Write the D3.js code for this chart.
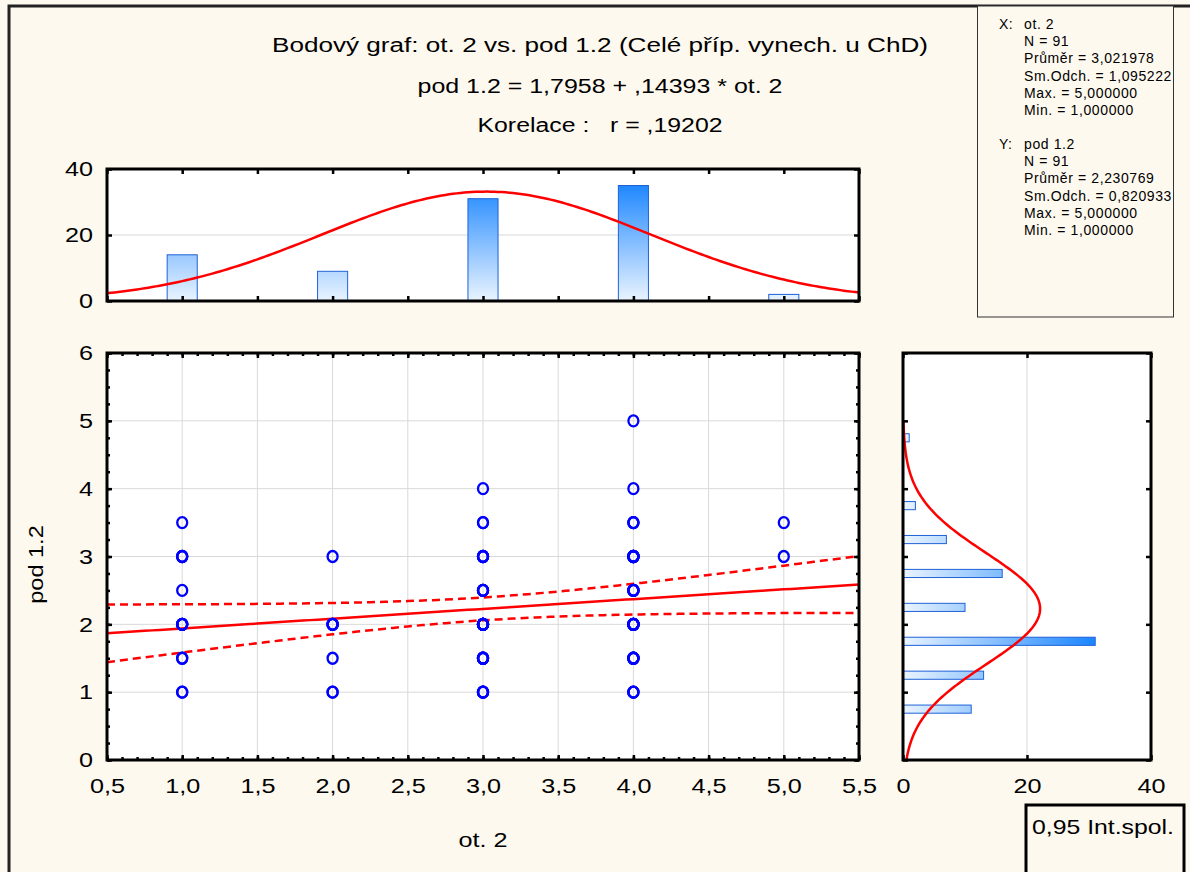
<!DOCTYPE html>
<html>
<head>
<meta charset="utf-8">
<script src="https://cdn.jsdelivr.net/npm/d3@7"></script>
<style>
  html, body { margin: 0; padding: 0; background: #fef9ef; }
  svg { display: block; font-family: "Liberation Sans", Arial, sans-serif; }
</style>
</head>
<body>
<svg id="chart" width="1190" height="872"></svg>
<script>
// ---- data ---------------------------------------------------------------
// distinct (ot. 2, pod 1.2) positions and the number of cases at each
const cellX = [1,1,1,1,1,1, 2,2,2,2, 3,3,3,3,3,3,3, 4,4,4,4,4,4,4,4, 5,5];
const cellY = [1,1.5,2,2.5,3,3.5, 1,1.5,2,3, 1,1.5,2,2.5,3,3.5,4, 1,1.5,2,2.5,3,3.5,4,5, 3,3.5];
const cellN = [2,2,5,1,3,1, 2,1,5,1, 4,5,11,4,4,2,1, 3,5,10,5,7,3,1,1, 1,1];

// marginal histogram of ot. 2 (top)
const xBins = [1, 2, 3, 4, 5];
const xCounts = [14, 9, 31, 35, 2];

// marginal histogram of pod 1.2 (right), bins of width 0.5
const yBinMids = [0.75, 1.25, 1.75, 2.25, 2.75, 3.25, 3.75, 4.25, 4.75];
const yCounts = [11, 13, 31, 10, 16, 7, 2, 0, 1];

// descriptive statistics and regression
const nCases = 91;
const meanX = 3.021978, sdX = 1.095222;
const meanY = 2.230769, sdY = 0.820933;
const intercept = 1.7958, slope = 0.14393, corr = 0.19202;
const tCrit = 1.987; // t(0.975; 89)

// text
const titleLines = [
  "Bodový graf: ot. 2 vs. pod 1.2 (Celé příp. vynech. u ChD)",
  "pod 1.2 = 1,7958 + ,14393 * ot. 2",
  "Korelace :   r = ,19202"
];
const statsX = ["ot. 2", "N = 91", "Průměr = 3,021978", "Sm.Odch. = 1,095222", "Max. = 5,000000", "Min. = 1,000000"];
const statsY = ["pod 1.2", "N = 91", "Průměr = 2,230769", "Sm.Odch. = 0,820933", "Max. = 5,000000", "Min. = 1,000000"];
const xTicks = [0.5, 1, 1.5, 2, 2.5, 3, 3.5, 4, 4.5, 5, 5.5];
const yTicks = [0, 1, 2, 3, 4, 5, 6];
const countTicks = [0, 20, 40];
const legendText = "0,95 Int.spol.";

// ---- setup --------------------------------------------------------------
const svg = d3.select("#chart");
const czFmt = d3.formatLocale({ decimal: ",", thousands: "\u00a0", grouping: [3], currency: ["", " Kč"] }).format(".1f");

const xS = d3.scaleLinear([0.5, 5.5], [107, 859]);
const yS = d3.scaleLinear([0, 6], [760, 353]);
const yTop = d3.scaleLinear([0, 40], [301, 169]);
const xRight = d3.scaleLinear([0, 40], [903, 1151]);

const RED = "#ff0000", BLUE = "#0000ff", GRID = "#d9d9d9";
const STRETCH = 1.2; // labels are set slightly wide

// outer frame (left and top edges visible)
svg.append("rect").attr("x", 9).attr("y", 6).attr("width", 1200).attr("height", 900)
  .attr("fill", "#fef9ef").attr("stroke", "#222").attr("stroke-width", 3);

// gradients for histogram bars (in data space so taller bars get deeper blue)
const defs = svg.append("defs");
const gTop = defs.append("linearGradient").attr("id", "gradTop").attr("gradientUnits", "userSpaceOnUse")
  .attr("x1", 0).attr("x2", 0).attr("y1", yTop(0)).attr("y2", yTop(36));
gTop.append("stop").attr("offset", 0).attr("stop-color", "#eaf4ff");
gTop.append("stop").attr("offset", 1).attr("stop-color", "#1a85ff");
const gRight = defs.append("linearGradient").attr("id", "gradRight").attr("gradientUnits", "userSpaceOnUse")
  .attr("y1", 0).attr("y2", 0).attr("x1", xRight(0)).attr("x2", xRight(31));
gRight.append("stop").attr("offset", 0).attr("stop-color", "#eaf4ff");
gRight.append("stop").attr("offset", 1).attr("stop-color", "#1a85ff");

function clip(id, x0, y0, x1, y1) {
  defs.append("clipPath").attr("id", id).append("rect")
    .attr("x", x0).attr("y", y0).attr("width", x1 - x0).attr("height", y1 - y0);
}
clip("clipMain", xS(0.5), yS(6), xS(5.5), yS(0));
clip("clipTop", xS(0.5), yTop(40), xS(5.5), yTop(0));
clip("clipRight", xRight(0), yS(6), xRight(40), yS(0));

function panel(x0, y0, x1, y1) {
  svg.append("rect").attr("x", x0).attr("y", y0).attr("width", x1 - x0).attr("height", y1 - y0).attr("fill", "#fff");
}
function frame(x0, y0, x1, y1) {
  svg.append("rect").attr("x", x0).attr("y", y0).attr("width", x1 - x0).attr("height", y1 - y0)
    .attr("fill", "none").attr("stroke", "#000").attr("stroke-width", 3);
}
// inward tick marks on a frame edge
function ticks(axisFn, scale, values, len, tx, ty) {
  svg.append("g").attr("transform", `translate(${tx},${ty})`)
    .call(axisFn(scale).tickValues(values).tickSize(len).tickFormat(""))
    .call(g => g.select(".domain").remove())
    .selectAll("line").attr("stroke", "#000").attr("stroke-width", 2.5);
}
// tick labels; the text is widened about each tick position
function labels(axisFn, scale, values, fmt, pad, tx, ty, size) {
  svg.append("g").attr("transform", `translate(${tx},${ty})`)
    .call(axisFn(scale).tickValues(values).tickSize(0).tickPadding(pad).tickFormat(fmt))
    .call(g => g.select(".domain").remove())
    .selectAll("text").attr("font-size", size).attr("font-family", "Liberation Sans, Arial, sans-serif")
    .attr("fill", "#000").attr("transform", `scale(${STRETCH},1)`);
}

// ---- titles -------------------------------------------------------------
const titleY = [52, 93, 132];
const titleW = [656, 365, 245];
titleLines.forEach((t, i) => {
  svg.append("text").attr("x", 600).attr("y", titleY[i]).attr("text-anchor", "middle")
    .attr("font-size", 20).style("white-space", "pre")
    .attr("textLength", titleW[i]).attr("lengthAdjust", "spacingAndGlyphs").text(t);
});

// ---- statistics box -----------------------------------------------------
svg.append("rect").attr("x", 977.5).attr("y", 6).attr("width", 196).attr("height", 311)
  .attr("fill", "#fef9ef").attr("stroke", "#333").attr("stroke-width", 1);
function statBlock(head, lines, y0) {
  svg.append("text").attr("x", 999).attr("y", y0).attr("font-size", 14).attr("letter-spacing", 0.5).text(head);
  lines.forEach((t, i) => {
    svg.append("text").attr("x", 1024).attr("y", y0 + i * 17.2).attr("font-size", 14)
      .attr("letter-spacing", 0.6).text(t);
  });
}
statBlock("X:", statsX, 29);
statBlock("Y:", statsY, 149);

// ---- top histogram (ot. 2) -----------------------------------------------
panel(xS(0.5), yTop(40), xS(5.5), yTop(0));
svg.append("line").attr("x1", xS(0.5)).attr("x2", xS(5.5)).attr("y1", yTop(20)).attr("y2", yTop(20))
  .attr("stroke", GRID).attr("stroke-width", 1);
const topG = svg.append("g").attr("clip-path", "url(#clipTop)");
topG.selectAll("rect.bar").data(xBins).join("rect").attr("class", "bar")
  .attr("x", d => xS(d - 0.1)).attr("width", xS(1.2) - xS(1))
  .attr("y", (d, i) => yTop(xCounts[i])).attr("height", (d, i) => yTop(0) - yTop(xCounts[i]))
  .attr("fill", "url(#gradTop)").attr("stroke", "#1f62d6").attr("stroke-width", 1);
const normTop = d3.range(0, 201).map(i => 0.5 + i * 5 / 200)
  .map(x => [x, nCases * 1 / (sdX * Math.sqrt(2 * Math.PI)) * Math.exp(-0.5 * ((x - meanX) / sdX) ** 2)]);
topG.append("path").datum(normTop)
  .attr("d", d3.line().x(d => xS(d[0])).y(d => yTop(d[1])))
  .attr("fill", "none").attr("stroke", RED).attr("stroke-width", 2.5);
frame(xS(0.5), yTop(40), xS(5.5), yTop(0));
ticks(d3.axisBottom, xS, xTicks, 5, 0, yTop(40));
ticks(d3.axisTop, xS, xTicks, 5, 0, yTop(0));
ticks(d3.axisRight, yTop, countTicks, 5, xS(0.5), 0);
ticks(d3.axisLeft, yTop, countTicks, 5, xS(5.5), 0);
labels(d3.axisLeft, yTop, countTicks, d3.format("d"), 14 / STRETCH, xS(0.5), 0, 21);

// ---- scatter plot -------------------------------------------------------
panel(xS(0.5), yS(6), xS(5.5), yS(0));
svg.append("g").selectAll("line").data(xTicks.slice(1, -1)).join("line")
  .attr("x1", d => xS(d)).attr("x2", d => xS(d)).attr("y1", yS(0)).attr("y2", yS(6))
  .attr("stroke", GRID).attr("stroke-width", 1);
svg.append("g").selectAll("line").data(yTicks.slice(1, -1)).join("line")
  .attr("y1", d => yS(d)).attr("y2", d => yS(d)).attr("x1", xS(0.5)).attr("x2", xS(5.5))
  .attr("stroke", GRID).attr("stroke-width", 1);

const mainG = svg.append("g").attr("clip-path", "url(#clipMain)");

// regression line with 95% confidence band for the mean
const sxx = (nCases - 1) * sdX * sdX;
const sRes = Math.sqrt((nCases - 1) * sdY * sdY * (1 - corr * corr) / (nCases - 2));
const xs = d3.range(0, 101).map(i => 0.5 + i * 5 / 100);
const band = xs.map(x => {
  const fit = intercept + slope * x;
  const h = tCrit * sRes * Math.sqrt(1 / nCases + (x - meanX) ** 2 / sxx);
  return { x, fit, lo: fit - h, hi: fit + h };
});
const lineGen = key => d3.line().x(d => xS(d.x)).y(d => yS(d[key]));
mainG.append("path").datum(band).attr("d", lineGen("lo"))
  .attr("fill", "none").attr("stroke", RED).attr("stroke-width", 2.5).attr("stroke-dasharray", "8,5");
mainG.append("path").datum(band).attr("d", lineGen("hi"))
  .attr("fill", "none").attr("stroke", RED).attr("stroke-width", 2.5).attr("stroke-dasharray", "8,5");
mainG.append("path").datum(band).attr("d", lineGen("fit"))
  .attr("fill", "none").attr("stroke", RED).attr("stroke-width", 2.5);

// one marker per case (coincident cases overprint)
const cases = [];
cellX.forEach((x, i) => { for (let k = 0; k < cellN[i]; k++) cases.push({ x, y: cellY[i] }); });
mainG.selectAll("ellipse").data(cases).join("ellipse")
  .attr("cx", d => xS(d.x)).attr("cy", d => yS(d.y)).attr("rx", 5).attr("ry", 5.5)
  .attr("fill", "none").attr("stroke", BLUE).attr("stroke-width", 2.3);

frame(xS(0.5), yS(6), xS(5.5), yS(0));
const xMinor = d3.range(5, 56).map(i => i / 10);
const yMinor = d3.range(0, 25).map(i => i / 4);
ticks(d3.axisTop, xS, xMinor, 3, 0, yS(0));
ticks(d3.axisTop, xS, xTicks, 5, 0, yS(0));
ticks(d3.axisBottom, xS, xMinor, 3, 0, yS(6));
ticks(d3.axisBottom, xS, xTicks, 5, 0, yS(6));
ticks(d3.axisRight, yS, yMinor, 3, xS(0.5), 0);
ticks(d3.axisRight, yS, yTicks, 5, xS(0.5), 0);
ticks(d3.axisLeft, yS, yMinor, 3, xS(5.5), 0);
ticks(d3.axisLeft, yS, yTicks, 5, xS(5.5), 0);
labels(d3.axisBottom, xS, xTicks, czFmt, 18, 0, yS(0), 21);
labels(d3.axisLeft, yS, yTicks, d3.format("d"), 14 / STRETCH, xS(0.5), 0, 21);

svg.append("text").attr("transform", `translate(483,847) scale(${STRETCH},1)`)
  .attr("text-anchor", "middle").attr("font-size", 21).text("ot. 2");
svg.append("text").attr("transform", `translate(43,${(yS(0) + yS(6)) / 2 + 8}) rotate(-90) scale(1.12,1)`)
  .attr("text-anchor", "middle").attr("font-size", 21).text("pod 1.2");

// ---- right histogram (pod 1.2) -------------------------------------------
panel(xRight(0), yS(6), xRight(40), yS(0));
svg.append("line").attr("x1", xRight(20)).attr("x2", xRight(20)).attr("y1", yS(0)).attr("y2", yS(6))
  .attr("stroke", GRID).attr("stroke-width", 1);
const rightG = svg.append("g").attr("clip-path", "url(#clipRight)");
rightG.selectAll("rect.bar").data(yBinMids.filter((d, i) => yCounts[i] > 0)).join("rect").attr("class", "bar")
  .attr("x", xRight(0))
  .attr("width", d => xRight(yCounts[yBinMids.indexOf(d)]) - xRight(0))
  .attr("y", d => yS(d + 0.06)).attr("height", yS(0) - yS(0.12))
  .attr("fill", "url(#gradRight)").attr("stroke", "#1f62d6").attr("stroke-width", 1);
const normRight = d3.range(0, 201).map(i => i * 5 / 200)
  .map(y => [y, nCases * 0.5 / (sdY * Math.sqrt(2 * Math.PI)) * Math.exp(-0.5 * ((y - meanY) / sdY) ** 2)]);
rightG.append("path").datum(normRight)
  .attr("d", d3.line().x(d => xRight(d[1])).y(d => yS(d[0])))
  .attr("fill", "none").attr("stroke", RED).attr("stroke-width", 2.5);
frame(xRight(0), yS(6), xRight(40), yS(0));
ticks(d3.axisRight, yS, yTicks, 5, xRight(0), 0);
ticks(d3.axisLeft, yS, yTicks, 5, xRight(40), 0);
ticks(d3.axisTop, xRight, countTicks, 5, 0, yS(0));
ticks(d3.axisBottom, xRight, countTicks, 5, 0, yS(6));
labels(d3.axisBottom, xRight, countTicks, d3.format("d"), 18, 0, yS(0), 21);

// ---- legend box ---------------------------------------------------------
svg.append("rect").attr("x", 1026).attr("y", 805).attr("width", 158).attr("height", 80)
  .attr("fill", "#fef9ef").attr("stroke", "#000").attr("stroke-width", 3);
svg.append("text").attr("x", 1032).attr("y", 834).attr("font-size", 21)
  .attr("textLength", 142).attr("lengthAdjust", "spacingAndGlyphs").text(legendText);
</script>
</body>
</html>
